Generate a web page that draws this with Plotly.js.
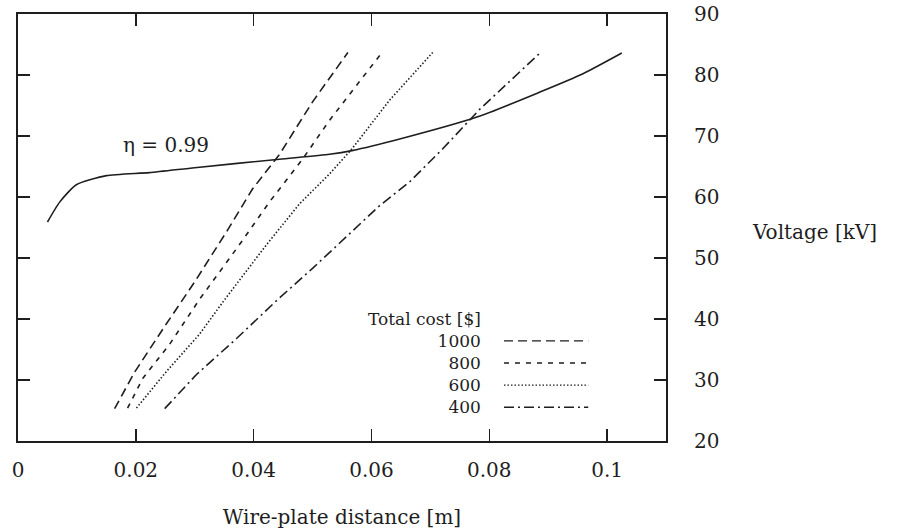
<!DOCTYPE html>
<html>
<head>
<meta charset="utf-8">
<script src="https://cdn.plot.ly/plotly-3.0.1.min.js"></script>
<style>html,body{margin:0;padding:0;background:#fff;}#chart{width:908px;height:529px;}</style>
</head>
<body>
<div id="chart"></div>
<script>
// efficiency curve eta = 0.99
const etaX = [0.0050, 0.0071, 0.0099, 0.0150, 0.0223, 0.0300, 0.0444, 0.0529, 0.0567, 0.0648, 0.0779, 0.0886, 0.0959, 0.1025];
const etaY = [55.9, 59.2, 62.0, 63.5, 64.0, 64.8, 66.2, 67.0, 67.6, 69.5, 73.1, 77.2, 80.2, 83.6];

// total cost iso-lines
const costLabels = ["1000", "800", "600", "400"];
const c1000X = [0.0164, 0.0198, 0.0249, 0.0300, 0.0354, 0.0398, 0.0444, 0.0500, 0.0560];
const c1000Y = [25.3, 31.3, 38.8, 46.1, 54.3, 61.3, 67.0, 75.6, 83.7];
const c800X = [0.0186, 0.0212, 0.0257, 0.0308, 0.0376, 0.0427, 0.0483, 0.0529, 0.0618];
const c800Y = [25.4, 30.3, 35.8, 43.2, 52.2, 59.2, 66.2, 72.6, 83.7];
const c600X = [0.0201, 0.0252, 0.0308, 0.0351, 0.0422, 0.0478, 0.0529, 0.0567, 0.0631, 0.0704];
const c600Y = [25.4, 31.4, 37.5, 43.2, 52.2, 58.9, 63.8, 67.9, 75.9, 83.7];
const c400X = [0.0249, 0.0303, 0.0371, 0.0441, 0.0500, 0.0614, 0.0665, 0.0721, 0.0784, 0.0886];
const c400Y = [25.3, 30.9, 36.8, 43.2, 48.3, 58.6, 62.5, 67.9, 74.4, 83.6];

const xTicks = [0, 0.02, 0.04, 0.06, 0.08, 0.1];
const xTickText = ["0", "0.02", "0.04", "0.06", "0.08", "0.1"];
const yTicks = [20, 30, 40, 50, 60, 70, 80, 90];

const ink = "#1e1e1e";
const FONT = "DejaVu Serif, Liberation Serif, serif";
const dashes = ["9px,5px", "5px,6px", "1.5px,2px", "10px,4px,2px,4px"];
const costX = [c1000X, c800X, c600X, c400X];
const costY = [c1000Y, c800Y, c600Y, c400Y];

const traces = [{
  x: etaX, y: etaY, mode: "lines", type: "scatter",
  line: {color: ink, width: 1.6, shape: "spline", smoothing: 0.6}, showlegend: false, hoverinfo: "skip"
}];
costLabels.forEach((lab, i) => {
  traces.push({
    x: costX[i], y: costY[i], mode: "lines", type: "scatter", name: lab,
    line: {color: ink, width: 1.6, dash: dashes[i]}, showlegend: false
  });
});

// hand-made legend (text block left of line samples)
const legFont = 17;
const legLine = legFont * 1.3;           // plotly multi-line spacing
const legCenter = 363;                   // pixel centre of the 5-line block
const pxToY = p => 20 + (441 - p) / 6.1;
const annotations = [
  {x: 0.0251, y: 68.6, xref: "x", yref: "y", text: "η = 0.99", showarrow: false,
   font: {family: FONT, size: 20, color: ink}},
  {x: 1.13, y: 54.3, xref: "paper", yref: "y", xanchor: "left", text: "Voltage [kV]", showarrow: false,
   font: {family: FONT, size: 20, color: ink}},
  {x: 0.0790, y: pxToY(legCenter), xref: "x", yref: "y", xanchor: "right", yanchor: "middle", align: "right",
   text: ["Total cost [$]"].concat(costLabels).join("<br>"), showarrow: false,
   font: {family: FONT, size: legFont, color: ink}}
];
const shapes = [];
costLabels.forEach((lab, i) => {
  const yy = pxToY(legCenter + (i - 1) * legLine);
  shapes.push({type: "line", xref: "x", yref: "y", x0: 0.0825, x1: 0.0968, y0: yy, y1: yy,
    line: {color: ink, width: 1.4, dash: dashes[i]}});
});

const layout = {
  width: 908, height: 529,
  margin: {l: 18, r: 242, t: 14, b: 88},
  paper_bgcolor: "#fff", plot_bgcolor: "#fff",
  font: {family: FONT, size: 20, color: ink},
  showlegend: false,
  xaxis: {
    range: [0, 0.11], tickvals: xTicks, ticktext: xTickText,
    ticks: "inside", ticklen: 12, tickwidth: 1.5, tickcolor: ink,
    showline: true, linewidth: 2, linecolor: ink, mirror: "ticks",
    showgrid: false, zeroline: false, ticklabelstandoff: 10,
    title: {text: "Wire-plate distance [m]", standoff: 32, font: {family: FONT, size: 20, color: ink}}
  },
  yaxis: {
    range: [20, 90], tickvals: yTicks, side: "right",
    ticks: "inside", ticklen: 12, tickwidth: 1.5, tickcolor: ink,
    showline: true, linewidth: 2, linecolor: ink, mirror: "ticks",
    showgrid: false, zeroline: false, ticklabelstandoff: 22
  },
  annotations: annotations,
  shapes: shapes
};

Plotly.newPlot("chart", traces, layout, {staticPlot: true, displayModeBar: false});
</script>
</body>
</html>
